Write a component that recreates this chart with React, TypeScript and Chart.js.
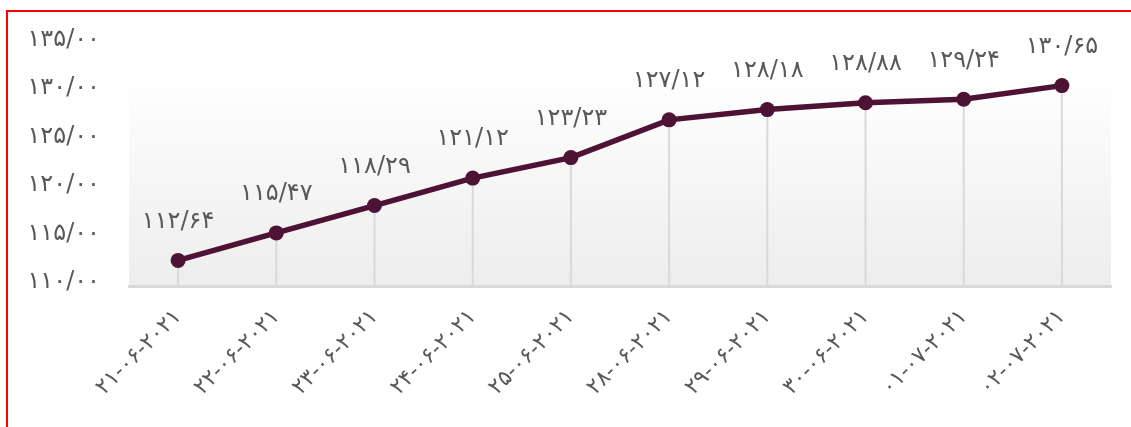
import React, { useEffect, useRef } from "react";
import { Chart, registerables } from "chart.js";

Chart.register(...registerables);

const categories = [
  "۲۱-۰۶-۲۰۲۱",
  "۲۲-۰۶-۲۰۲۱",
  "۲۳-۰۶-۲۰۲۱",
  "۲۴-۰۶-۲۰۲۱",
  "۲۵-۰۶-۲۰۲۱",
  "۲۸-۰۶-۲۰۲۱",
  "۲۹-۰۶-۲۰۲۱",
  "۳۰-۰۶-۲۰۲۱",
  "۰۱-۰۷-۲۰۲۱",
  "۰۲-۰۷-۲۰۲۱",
];
const values = [112.64, 115.47, 118.29, 121.12, 123.23, 127.12, 128.18, 128.88, 129.24, 130.65];
const yMin = 110;
const yMax = 135;
const yStep = 5;

const FA_DIGITS = "۰۱۲۳۴۵۶۷۸۹";
const toFa = (s: string) => s.replace(/[0-9]/g, (d) => FA_DIGITS[Number(d)]);
const fmt = (v: number) => toFa(v.toFixed(2)).replace(".", "/");

const FONT = "'DejaVu Sans', sans-serif";
const TEXT_COLOR = "#595959";
const LINE_COLOR = "#4e1334";

const bgPlugin = {
  id: "bgGradient",
  beforeDraw(chart: any) {
    const { ctx, chartArea } = chart;
    const g = ctx.createLinearGradient(0, chartArea.top, 0, chartArea.bottom);
    g.addColorStop(0, "#ffffff");
    g.addColorStop(0.12, "#ffffff");
    g.addColorStop(1, "#ededed");
    ctx.save();
    ctx.fillStyle = g;
    ctx.fillRect(chartArea.left, chartArea.top, chartArea.right - chartArea.left, chartArea.bottom - chartArea.top);
    ctx.restore();
  },
};

const dropLinePlugin = {
  id: "dropLines",
  beforeDatasetsDraw(chart: any) {
    const { ctx, chartArea } = chart;
    const meta = chart.getDatasetMeta(0);
    ctx.save();
    ctx.strokeStyle = "#d9d9d9";
    ctx.lineWidth = 2;
    meta.data.forEach((pt: any) => {
      ctx.beginPath();
      ctx.moveTo(pt.x, pt.y);
      ctx.lineTo(pt.x, chartArea.bottom);
      ctx.stroke();
    });
    ctx.restore();
  },
};

const labelPlugin = {
  id: "valueLabels",
  afterDatasetsDraw(chart: any) {
    const { ctx } = chart;
    const meta = chart.getDatasetMeta(0);
    ctx.save();
    ctx.fillStyle = TEXT_COLOR;
    ctx.font = `24px ${FONT}`;
    ctx.textAlign = "center";
    ctx.textBaseline = "middle";
    meta.data.forEach((pt: any, i: number) => {
      ctx.fillText(fmt(values[i]), pt.x, pt.y - 39);
    });
    ctx.restore();
  },
};

export default function App() {
  const ref = useRef<HTMLCanvasElement>(null);

  useEffect(() => {
    if (!ref.current) return;
    const chart = new Chart(ref.current, {
      type: "line",
      data: {
        labels: categories,
        datasets: [
          {
            data: values,
            borderColor: LINE_COLOR,
            backgroundColor: LINE_COLOR,
            borderWidth: 5.5,
            pointRadius: 7.5,
            pointHoverRadius: 7.5,
            pointBackgroundColor: LINE_COLOR,
            pointBorderColor: LINE_COLOR,
            pointBorderWidth: 0,
            tension: 0,
            fill: false,
          },
        ],
      },
      options: {
        responsive: false,
        animation: false,
        devicePixelRatio: 1,
        layout: { padding: { left: 0, top: 43, right: 20, bottom: 0 } },
        plugins: {
          legend: { display: false },
          title: { display: false },
          tooltip: { enabled: false },
        },
        scales: {
          x: {
            type: "category",
            offset: true,
            grid: { display: false, drawTicks: false },
            border: { display: true, color: "#d9d9d9", width: 3 },
            ticks: {
              color: TEXT_COLOR,
              font: { family: FONT, size: 22 },
              minRotation: 45,
              maxRotation: 45,
              padding: 18,
              autoSkip: false,
            },
            afterFit(scale: any) {
              scale.height = 427 - 286;
            },
          },
          y: {
            min: yMin,
            max: yMax,
            grid: { display: false, drawTicks: false },
            border: { display: false },
            ticks: {
              stepSize: yStep,
              color: TEXT_COLOR,
              font: { family: FONT, size: 24 },
              padding: 29,
              labelOffset: -4,
              callback: (v: any) => fmt(Number(v)),
            },
            afterFit(scale: any) {
              scale.width = 129;
            },
          },
        },
      },
      plugins: [bgPlugin, dropLinePlugin, labelPlugin],
    });
    return () => chart.destroy();
  }, []);

  return (
    <div style={{ position: "absolute", left: 0, top: 0, width: 1131, height: 427, overflow: "hidden" }}>
      <div
        style={{
          position: "absolute",
          left: 6,
          top: 10,
          width: 1140,
          height: 440,
          border: "2px solid #ff0000",
          boxSizing: "border-box",
        }}
      />
      <canvas
        ref={ref}
        width={1131}
        height={427}
        style={{ position: "absolute", left: 0, top: 0, width: 1131, height: 427 }}
      />
    </div>
  );
}
